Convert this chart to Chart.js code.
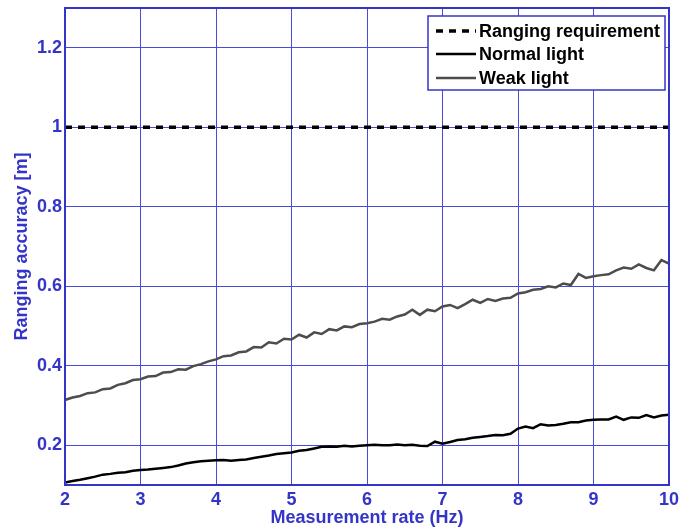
<!DOCTYPE html>
<html><head><meta charset="utf-8">
<script src="https://cdn.jsdelivr.net/npm/chart.js@4"></script>
<style>html,body{margin:0;padding:0;background:#fff}#wrap{width:681px;height:531px}</style>
</head><body><div id="wrap"><canvas id="c" width="681" height="531"></canvas></div>
<script>
const rates = [2.0,2.1,2.2,2.3,2.4,2.5,2.6,2.7,2.8,2.9,3.0,3.1,3.2,3.3,3.4,3.5,3.6,3.7,3.8,3.9,4.0,4.1,4.2,4.3,4.4,4.5,4.6,4.7,4.8,4.9,5.0,5.1,5.2,5.3,5.4,5.5,5.6,5.7,5.8,5.9,6.0,6.1,6.2,6.3,6.4,6.5,6.6,6.7,6.8,6.9,7.0,7.1,7.2,7.3,7.4,7.5,7.6,7.7,7.8,7.9,8.0,8.1,8.2,8.3,8.4,8.5,8.6,8.7,8.8,8.9,9.0,9.1,9.2,9.3,9.4,9.5,9.6,9.7,9.8,9.9,10.0];
const normalLight = [0.106,0.110,0.113,0.117,0.121,0.126,0.128,0.131,0.132,0.136,0.138,0.139,0.141,0.143,0.145,0.149,0.154,0.157,0.160,0.161,0.162,0.163,0.161,0.163,0.164,0.168,0.171,0.174,0.178,0.180,0.182,0.186,0.188,0.192,0.196,0.197,0.196,0.199,0.197,0.199,0.200,0.201,0.200,0.200,0.202,0.200,0.201,0.199,0.198,0.209,0.204,0.208,0.213,0.215,0.219,0.221,0.223,0.226,0.225,0.229,0.242,0.247,0.243,0.253,0.250,0.251,0.254,0.258,0.258,0.262,0.264,0.265,0.265,0.272,0.264,0.270,0.269,0.276,0.270,0.275,0.277];
const weakLight = [0.314,0.320,0.324,0.331,0.333,0.341,0.343,0.352,0.356,0.364,0.366,0.373,0.374,0.383,0.384,0.391,0.390,0.399,0.404,0.411,0.416,0.424,0.426,0.434,0.436,0.447,0.446,0.459,0.456,0.468,0.466,0.478,0.471,0.484,0.480,0.492,0.489,0.499,0.497,0.505,0.507,0.511,0.518,0.516,0.524,0.529,0.541,0.528,0.541,0.537,0.549,0.553,0.545,0.555,0.566,0.558,0.568,0.563,0.569,0.571,0.582,0.585,0.591,0.593,0.600,0.597,0.607,0.603,0.631,0.621,0.625,0.628,0.630,0.640,0.647,0.644,0.655,0.646,0.640,0.666,0.657];
const requirementRates = [2, 10];
const requirement = [1, 1];
const xTicks = [2,3,4,5,6,7,8,9,10];
const yTicks = [0.2,0.4,0.6,0.8,1,1.2];
const seriesLabels = ['Ranging requirement','Normal light','Weak light'];

const BLUE = '#3434c8';
const GRID = '#4a4ad6';
const FONT = "'Liberation Sans', Arial, Helvetica, sans-serif";

const toPts = (xs, ys) => xs.map((x, i) => ({x: x, y: ys[i]}));

const boxPlugin = {
  id: 'box',
  afterDatasetsDraw(chart) {
    const {ctx, chartArea: a} = chart;
    ctx.save();
    ctx.strokeStyle = BLUE;
    ctx.lineWidth = 2;
    ctx.strokeRect(a.left, a.top, a.right - a.left, a.bottom - a.top);
    ctx.restore();
  },
  afterDraw(chart) {
    const ctx = chart.ctx;
    const bx = 428, by = 16, bw = 237, bh = 74;
    ctx.save();
    ctx.fillStyle = '#ffffff';
    ctx.fillRect(bx, by, bw, bh);
    ctx.strokeStyle = BLUE;
    ctx.lineWidth = 1.5;
    ctx.strokeRect(bx, by, bw, bh);
    const rows = [31, 54, 78];
    chart.data.datasets.forEach((ds, i) => {
      const y = rows[i];
      ctx.beginPath();
      ctx.strokeStyle = ds.borderColor;
      ctx.lineWidth = ds.borderWidth;
      ctx.setLineDash(ds.borderDash || []);
      ctx.moveTo(436, y);
      ctx.lineTo(476, y);
      ctx.stroke();
      ctx.setLineDash([]);
      ctx.fillStyle = '#000';
      ctx.font = "bold 18px " + FONT;
      ctx.textBaseline = 'middle';
      ctx.textAlign = 'left';
      ctx.fillText(ds.label, 479, y + 1);
    });
    ctx.restore();
  }
};

new Chart(document.getElementById('c'), {
  type: 'line',
  data: {
    datasets: [
      {label: seriesLabels[0], data: toPts(requirementRates, requirement), borderColor: '#000000', borderWidth: 3.5, borderDash: [7, 6], pointRadius: 0, fill: false, tension: 0},
      {label: seriesLabels[1], data: toPts(rates, normalLight), borderColor: '#000000', borderWidth: 2.5, pointRadius: 0, fill: false, tension: 0},
      {label: seriesLabels[2], data: toPts(rates, weakLight), borderColor: '#4d4d4d', borderWidth: 2.5, pointRadius: 0, fill: false, tension: 0}
    ]
  },
  options: {
    responsive: false,
    animation: false,
    layout: {padding: {top: 8, right: 12, left: 0, bottom: 0}},
    plugins: {legend: {display: false}, tooltip: {enabled: false}},
    scales: {
      x: {
        type: 'linear', min: 2, max: 10,
        afterBuildTicks: s => { s.ticks = xTicks.map(v => ({value: v})); },
        afterFit: s => { s.height = 46; s.paddingLeft = 0; s.paddingRight = 0; },
        grid: {color: GRID, lineWidth: 1, drawTicks: false},
        border: {display: false},
        ticks: {color: BLUE, padding: 4, font: {family: FONT, size: 18, weight: 'bold'}, maxRotation: 0},
        title: {display: true, text: 'Measurement rate (Hz)', color: BLUE, padding: {top: 0, bottom: 2}, font: {family: FONT, size: 18, weight: 'bold'}}
      },
      y: {
        type: 'linear', min: 0.1, max: 1.3,
        afterBuildTicks: s => { s.ticks = yTicks.map(v => ({value: v})); },
        afterFit: s => { s.width = 65; s.paddingTop = 0; s.paddingBottom = 0; },
        grid: {color: GRID, lineWidth: 1, drawTicks: false},
        border: {display: false},
        ticks: {color: BLUE, padding: 3, font: {family: FONT, size: 18, weight: 'bold'}, callback: v => String(v)},
        title: {display: true, text: 'Ranging accuracy [m]', color: BLUE, padding: {top: 11, bottom: 0}, font: {family: FONT, size: 18, weight: 'bold'}}
      }
    }
  },
  plugins: [boxPlugin]
});
</script>
</body></html>
